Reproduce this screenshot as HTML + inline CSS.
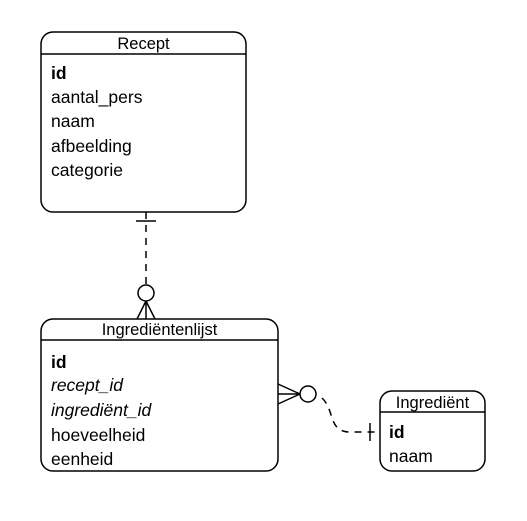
<!DOCTYPE html>
<html><head><meta charset="utf-8"><style>html,body{margin:0;padding:0;background:#fff}svg text{font-family:"Liberation Sans",Arial,sans-serif}</style></head>
<body>
<svg width="527" height="516" xmlns="http://www.w3.org/2000/svg">
<g fill="none" stroke="#000" stroke-width="1.5">
<rect x="41" y="32" width="205" height="180" rx="12"/>
<line x1="41" y1="54" x2="246" y2="54"/>
<rect x="41" y="319" width="237" height="152" rx="12"/>
<line x1="41" y1="340" x2="278" y2="340"/>
<rect x="380" y="391" width="105" height="80" rx="12"/>
<line x1="380" y1="412" x2="485" y2="412"/>
<line x1="146" y1="212" x2="146" y2="285" stroke-dasharray="7,6"/>
<line x1="136" y1="221" x2="156" y2="221"/>
<circle cx="146" cy="293" r="8"/>
<path d="M146 301 L137 319 M146 301 L146 319 M146 301 L155 319"/>
<circle cx="308" cy="394" r="8"/>
<path d="M300 394 L278 384 M300 394 L278 394 M300 394 L278 404"/>
<path d="M322 398 C335 410 328 432 350 432 L380 432" stroke-dasharray="7,6"/>
<line x1="370" y1="423" x2="370" y2="441"/>
</g>
<g font-size="17.5" fill="#000">
<text x="143.5" y="49" font-size="16.5" text-anchor="middle">Recept</text>
<text x="51" y="79" font-weight="bold">id</text>
<text x="51" y="103">aantal_pers</text>
<text x="51" y="127">naam</text>
<text x="51" y="152">afbeelding</text>
<text x="51" y="176">categorie</text>
<text x="159.5" y="335" font-size="16.5" text-anchor="middle">Ingrediëntenlijst</text>
<text x="51" y="368" font-weight="bold">id</text>
<text x="51" y="391" font-style="italic">recept_id</text>
<text x="51" y="416" font-style="italic">ingrediënt_id</text>
<text x="51" y="441">hoeveelheid</text>
<text x="51" y="465">eenheid</text>
<text x="432.5" y="408" font-size="16.5" text-anchor="middle">Ingrediënt</text>
<text x="389" y="438" font-weight="bold">id</text>
<text x="389" y="462">naam</text>
</g>
</svg>
</body></html>
